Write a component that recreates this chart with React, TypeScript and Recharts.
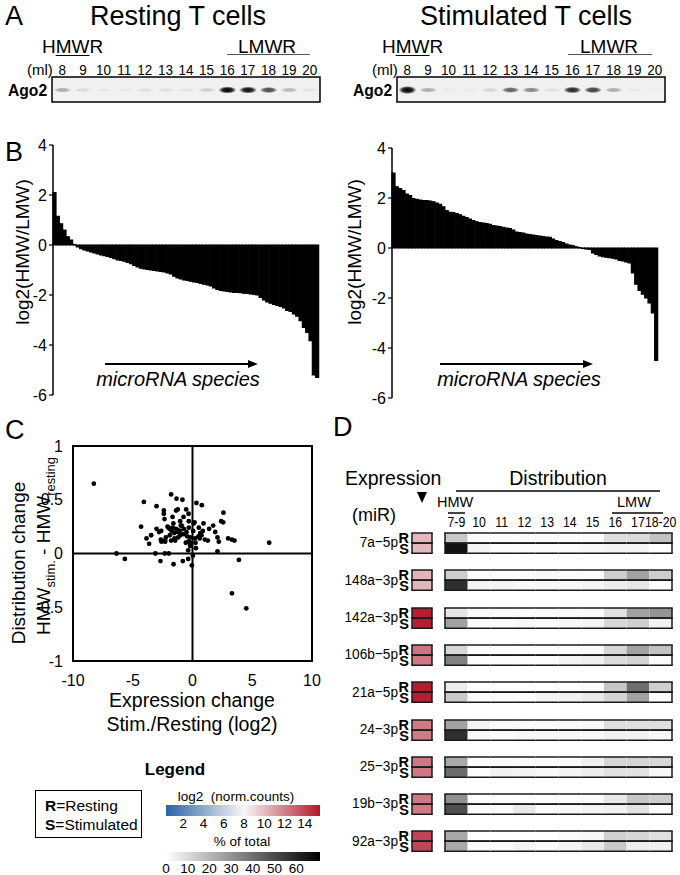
import React from 'react';
import {
  Bar,
  BarChart,
  Cell,
  ReferenceArea,
  ReferenceLine,
  Scatter,
  ScatterChart,
  XAxis,
  YAxis,
} from 'recharts';

const FONT = '"Liberation Sans", Arial, Helvetica, sans-serif';

// A: Ago2 western blot, SEC fractions (ml)
const blotLanes = ['8', '9', '10', '11', '12', '13', '14', '15', '16', '17', '18', '19', '20'];
const restingBands = [0.3, 0.1, 0.04, 0.04, 0.08, 0.08, 0.06, 0.15, 1, 0.95, 0.7, 0.25, 0.05];
const stimulatedBands = [1.3, 0.3, 0.03, 0.03, 0.12, 0.6, 0.45, 0.08, 0.85, 0.75, 0.3, 0.04, 0.02];

// B: log2(HMW/LMW) per microRNA species, sorted
const restingRatio = [
  2.1, 1.15, 0.85, 0.6, 0.33, 0.2, 0.02, -0.08, -0.15, -0.2,
  -0.24, -0.28, -0.32, -0.36, -0.4, -0.43, -0.46, -0.5, -0.55, -0.6,
  -0.62, -0.65, -0.7, -0.75, -0.82, -0.88, -0.93, -0.96, -0.98, -1.0,
  -1.02, -1.04, -1.06, -1.08, -1.12, -1.16, -1.25, -1.32, -1.36, -1.4,
  -1.42, -1.45, -1.48, -1.5, -1.54, -1.57, -1.6, -1.64, -1.72, -1.78,
  -1.82, -1.84, -1.86, -1.88, -1.9, -1.9, -1.91, -1.93, -1.94, -1.96,
  -1.98, -2.0, -2.1, -2.2, -2.28, -2.33, -2.38, -2.42, -2.46, -2.52,
  -2.62, -2.66, -2.76, -2.85, -3.03, -3.3, -3.5, -3.83, -5.2, -5.3,
];
const stimulatedRatio = [
  3.0, 2.45, 2.38, 2.3, 2.16, 2.1, 1.98, 1.95, 1.92, 1.9,
  1.9, 1.88, 1.85, 1.8, 1.75, 1.65, 1.5, 1.43, 1.42, 1.38,
  1.33, 1.27, 1.22, 1.16, 1.1, 1.05, 1.02, 1.0, 0.98, 0.95,
  0.9, 0.88, 0.86, 0.83, 0.8, 0.78, 0.72, 0.64, 0.62, 0.6,
  0.56, 0.54, 0.52, 0.5, 0.48, 0.46, 0.44, 0.43, 0.36, 0.3,
  0.26, 0.22, 0.16, 0.12, 0.09, 0.05, 0.02, -0.02, -0.04, -0.06,
  -0.2, -0.26, -0.32, -0.35, -0.37, -0.39, -0.41, -0.44, -0.5, -0.52,
  -0.56, -0.6, -1.0, -1.45, -1.7, -1.85, -2.0, -2.2, -2.6, -4.5,
];
const ratioTicks = [-6, -4, -2, 0, 2, 4];

// C: expression change vs distribution change
const expressionChange = [
  -8.26, -4.07, -3.01, -1.79, -1.34, -0.84, 0.33, 0.78, 2.59, -2.4,
  -2.4, -1.37, -1.23, -0.53, -0.33, -2.34, -1.67, -0.75, -1.03, -0.31,
  0.17, 0.92, 1.73, 2.4, 2.57, -4.3, -3.01, -2.62, -2.09, -1.92,
  -1.65, -1.39, -0.98, -0.73, -0.31, 0.06, 0.53, 0.86, 1.39, 1.9,
  -3.46, -3.85, -3.63, -2.65, -2.23, -1.9, -1.53, -1.23, -1.03, -1.51,
  -1.79, -2.29, -0.45, -0.28, -0.56, 0.2, 0.5, 0.75, 1.03, 1.28,
  2.09, 2.2, 2.98, 3.29, 3.51, 6.42, -0.17, 0.25, -0.2, 0.28,
  -0.36, -6.36, -3.1, -2.32, -1.98, 2.09, 0.03, -5.66, -2.68, -1.59,
  -0.81, -0.36, -0.06, 3.88, 3.3, 4.5, -2.0, -1.75, -1.25, -0.9,
  -0.77, -1.2, -1.45, -2.3, -2.6, -0.35, -0.2, 0.6, 0.65, -1.05,
  -0.5, -1.6, 0.1, -2.8,
];
const distributionChange = [
  0.65, 0.48, 0.44, 0.55, 0.51, 0.5, 0.47, 0.45, 0.38, 0.4,
  0.37, 0.4, 0.41, 0.41, 0.37, 0.32, 0.34, 0.34, 0.3, 0.3,
  0.29, 0.28, 0.26, 0.3, 0.29, 0.25, 0.23, 0.21, 0.25, 0.23,
  0.24, 0.23, 0.26, 0.23, 0.24, 0.21, 0.24, 0.21, 0.23, 0.2,
  0.17, 0.14, 0.09, 0.13, 0.15, 0.17, 0.19, 0.2, 0.17, 0.14,
  0.12, 0.11, 0.16, 0.11, 0.1, 0.14, 0.16, 0.17, 0.13, 0.12,
  0.15, 0.11, 0.14, 0.13, 0.12, 0.1, 0.1, 0.1, 0.07, 0.05,
  0.03, 0.0, 0.0, 0.0, 0.0, 0.02, -0.02, -0.05, -0.07, -0.1,
  -0.07, -0.05, -0.11, -0.06, -0.37, -0.51, 0.24, 0.21, 0.22, 0.26,
  0.18, 0.15, 0.12, 0.12, 0.11, 0.11, 0.15, 0.14, 0.19, 0.21,
  0.2, 0.28, 0.28, 0.2,
];
const scatterXTicks = [-10, -5, 0, 5, 10];
const scatterYTicks = [-1, -0.5, 0, 0.5, 1];

// D: expression (log2 norm. counts) and distribution (% of total)
const mirNames = ['7a\u22125p', '148a\u22123p', '142a\u22123p', '106b\u22125p', '21a\u22125p', '24\u22123p', '25\u22123p', '19b\u22123p', '92a\u22123p'];
const expressionResting = [10.1, 10.3, 15.3, 12.4, 15.3, 12.2, 12.3, 12.3, 14.0];
const expressionStimulated = [10.1, 10.2, 15.3, 12.3, 15.3, 12.2, 12.3, 12.2, 14.0];
const distColumns = ['7-9', '10', '11', '12', '13', '14', '15', '16', '17', '18-20'];
const distResting = [
  [15, 1, 1, 1, 1, 1, 1, 9, 10, 17],
  [14, 1, 1, 1, 2, 1, 1, 14, 26, 14],
  [7, 1, 1, 1, 1, 1, 1, 8, 26, 30],
  [11, 0, 0, 0, 0, 0, 1, 11, 26, 17],
  [5, 0, 0, 0, 0, 0, 1, 16, 40, 13],
  [26, 3, 1, 1, 1, 1, 2, 9, 9, 9],
  [24, 1, 1, 1, 1, 1, 4, 11, 12, 11],
  [31, 0, 0, 0, 0, 0, 1, 6, 16, 14],
  [24, 0, 0, 0, 0, 1, 2, 13, 11, 9],
];
const distStimulated = [
  [66, 3, 1, 1, 1, 1, 2, 3, 3, 0],
  [58, 3, 3, 2, 2, 2, 3, 5, 7, 0],
  [26, 1, 1, 2, 1, 2, 3, 11, 13, 4],
  [35, 1, 1, 1, 1, 3, 4, 10, 12, 1],
  [15, 1, 1, 1, 3, 4, 6, 12, 26, 1],
  [58, 2, 1, 2, 2, 2, 2, 4, 4, 2],
  [41, 1, 4, 3, 2, 3, 5, 8, 8, 2],
  [49, 1, 1, 6, 1, 2, 3, 4, 8, 1],
  [24, 1, 1, 3, 1, 3, 6, 15, 5, 4],
];

// legend scales
const log2Range: [number, number] = [0.3, 15.5];
const log2Mid = 8;
const log2Ticks = [2, 4, 6, 8, 10, 12, 14];
const pctRange: [number, number] = [0, 71];
const pctTicks = [0, 10, 20, 30, 40, 50, 60];

const BLUE = '#2b62a6';
const WHITE = '#f7f7f7';
const RED = '#b2182b';

const hex = (c: string) => [1, 3, 5].map((i) => parseInt(c.slice(i, i + 2), 16));
const mix = (a: string, b: string, t: number) => {
  const k = Math.max(0, Math.min(1, t));
  const A = hex(a);
  const B = hex(b);
  return `rgb(${A.map((v, i) => Math.round(v + (B[i] - v) * k)).join(',')})`;
};
const expColor = (v: number) =>
  v < log2Mid
    ? mix(BLUE, WHITE, (v - log2Range[0]) / (log2Mid - log2Range[0]))
    : mix(WHITE, RED, (v - log2Mid) / (log2Range[1] - log2Mid));
const pctColor = (v: number) => mix('#ffffff', '#000000', (v - pctRange[0]) / (pctRange[1] - pctRange[0]));

// ---------- small layout helpers ----------
type TxtProps = {
  x: number;
  y: number;
  size: number;
  anchor?: 'start' | 'middle' | 'end';
  bold?: boolean;
  italic?: boolean;
  sx?: number;
  children: React.ReactNode;
};

const Txt = ({ x, y, size, anchor = 'start', bold, italic, sx = 1, children }: TxtProps) => {
  const shift = anchor === 'middle' ? '-50%' : anchor === 'end' ? '-100%' : '0px';
  const origin = anchor === 'middle' ? 'center' : anchor === 'end' ? 'right' : 'left';
  return (
    <div
      style={{
        position: 'absolute',
        left: x,
        top: y - 0.8465 * size,
        fontSize: size,
        lineHeight: 1,
        whiteSpace: 'nowrap',
        fontWeight: bold ? 700 : 400,
        fontStyle: italic ? 'italic' : 'normal',
        transform: `translateX(${shift}) scaleX(${sx})`,
        transformOrigin: `${origin} center`,
      }}
    >
      {children}
    </div>
  );
};

const VTxt = ({ cx, cy, size, children }: { cx: number; cy: number; size: number; children: React.ReactNode }) => (
  <div
    style={{
      position: 'absolute',
      left: cx,
      top: cy,
      fontSize: size,
      lineHeight: 1,
      whiteSpace: 'nowrap',
      transform: 'translate(-50%, -50%) rotate(-90deg)',
    }}
  >
    {children}
  </div>
);

const HLine = ({ x1, x2, y, w = 1.2, color = '#000' }: { x1: number; x2: number; y: number; w?: number; color?: string }) => (
  <div style={{ position: 'absolute', left: x1, top: y - w / 2, width: x2 - x1, height: w, background: color }} />
);

const Arrow = ({ x1, x2, y }: { x1: number; x2: number; y: number }) => (
  <>
    <HLine x1={x1} x2={x2 - 8} y={y} w={2} />
    <div
      style={{
        position: 'absolute',
        left: x2 - 10,
        top: y - 4,
        width: 0,
        height: 0,
        borderTop: '4px solid transparent',
        borderBottom: '4px solid transparent',
        borderLeft: '10px solid #000',
      }}
    />
  </>
);

const Sub = ({ children }: { children: React.ReactNode }) => (
  <span style={{ fontSize: '0.68em', position: 'relative', top: '0.35em' }}>{children}</span>
);

// ---------- A: blot ----------
const BandShape = (props: any) => {
  const { x, y, width, height, payload } = props;
  const level = payload.level as number;
  return (
    <ellipse
      cx={x + width / 2}
      cy={y + height / 2 + 0.5}
      rx={width * 0.43}
      ry={2 + 1.6 * Math.min(level, 1.4)}
      fill="url(#bandGrad)"
      opacity={Math.min(1, level)}
    />
  );
};

const LaneTick = (props: any) => {
  const { x, y, payload } = props;
  return (
    <text transform={`translate(${x},${y}) scale(0.9,1)`} textAnchor="middle" fontSize={15} fontFamily={FONT} fill="#000">
      {payload.value}
    </text>
  );
};

const Blot = ({ left, levels }: { left: number; levels: number[] }) => {
  const rows = blotLanes.map((lane, i) => ({ lane, full: 1, level: levels[i] }));
  return (
    <div style={{ position: 'absolute', left: left - 2, top: 58 }}>
      <BarChart width={272} height={46} data={rows} margin={{ top: 0, right: 2, bottom: 2, left: 2 }} barCategoryGap={0}>
        <defs>
          <radialGradient id="bandGrad">
            <stop offset="0%" stopColor="#000" stopOpacity={1} />
            <stop offset="55%" stopColor="#000" stopOpacity={0.85} />
            <stop offset="100%" stopColor="#000" stopOpacity={0} />
          </radialGradient>
        </defs>
        <XAxis
          dataKey="lane"
          orientation="top"
          height={19}
          axisLine={false}
          tickLine={false}
          tickSize={0}
          tickMargin={2}
          interval={0}
          tick={<LaneTick />}
        />
        <YAxis hide domain={[0, 1]} />
        <Bar dataKey="full" background={{ fill: '#f1f1f1' }} shape={BandShape} isAnimationActive={false} />
        <ReferenceArea y1={0} y2={1} fill="none" stroke="#000" strokeWidth={1.5} />
      </BarChart>
    </div>
  );
};

// ---------- B: sorted ratio bars ----------
const RatioChart = ({ left, top, marginLeft, values }: { left: number; top: number; marginLeft: number; values: number[] }) => {
  const rows = values.map((ratio, i) => ({ idx: i, ratio }));
  return (
    <div style={{ position: 'absolute', left, top }}>
      <BarChart
        width={330}
        height={281}
        data={rows}
        margin={{ top: 15, right: 330 - marginLeft - 30 - 266, bottom: 16, left: marginLeft }}
        barCategoryGap={0}
        barGap={0}
      >
        <XAxis dataKey="idx" hide />
        <YAxis
          domain={[-6, 4]}
          ticks={ratioTicks}
          interval={0}
          width={30}
          axisLine={{ stroke: '#000', strokeWidth: 1.5 }}
          tickLine={{ stroke: '#000', strokeWidth: 1.2 }}
          tickSize={4}
          tickMargin={2}
          tick={{ fontSize: 16, fill: '#000', fontFamily: FONT }}
        />
        <Bar dataKey="ratio" fill="#000" stroke="#000" strokeWidth={1.2} isAnimationActive={false} />
      </BarChart>
    </div>
  );
};

// ---------- D: heatmap rows ----------
const ROW_TOP = 533;
const ROW_PITCH = 37.3;
const ROW_H = 20.5;

const FramedCell = (props: any) => {
  const { x, y, width, height, fill, first, last } = props;
  const s = '#1a1a1a';
  return (
    <g>
      <rect x={x} y={y} width={width} height={height} fill={fill} />
      <line x1={x - (first ? 0.75 : 0)} x2={x + width + (last ? 0.75 : 0)} y1={y} y2={y} stroke={s} strokeWidth={1.5} />
      <line x1={x - (first ? 0.75 : 0)} x2={x + width + (last ? 0.75 : 0)} y1={y + height} y2={y + height} stroke={s} strokeWidth={1.5} />
      {first && <line x1={x} x2={x} y1={y} y2={y + height} stroke={s} strokeWidth={1.5} />}
      {last && <line x1={x + width} x2={x + width} y1={y} y2={y + height} stroke={s} strokeWidth={1.5} />}
    </g>
  );
};

const ColTick = (props: any) => {
  const { x, y, payload } = props;
  return (
    <text transform={`translate(${x},${y}) scale(0.82,1)`} textAnchor="middle" fontSize={15} fontFamily={FONT} fill="#000">
      {distColumns[Math.floor(payload.value)]}
    </text>
  );
};

const RSTick = (props: any) => {
  const { x, y, payload } = props;
  return (
    <text x={x} y={y + 5.2} textAnchor="end" fontSize={14.5} fontWeight={700} fontFamily={FONT} fill="#000">
      {payload.value}
    </text>
  );
};

const HeatRow = ({ i }: { i: number }) => {
  const top = ROW_TOP + i * ROW_PITCH;
  const header = i === 0;
  const distRows = ['R', 'S'].map((k) => {
    const row: Record<string, string | number> = { k };
    distColumns.forEach((_, c) => {
      row[`c${c}`] = 1;
    });
    return row;
  });
  const distVals = [distResting[i], distStimulated[i]];
  const expRows = [
    { k: 'R', one: 1, e: expressionResting[i] },
    { k: 'S', one: 1, e: expressionStimulated[i] },
  ];
  const extra = header ? 20 : 0;
  return (
    <>
      <Txt x={398} y={top + 14.5} size={15.5} anchor="end" sx={0.88}>
        {mirNames[i]}
      </Txt>
      <div style={{ position: 'absolute', left: 412 - 14 - 2, top: top - 4 }}>
        <BarChart
          layout="vertical"
          width={38}
          height={ROW_H + 8}
          data={expRows}
          margin={{ top: 4, right: 2, bottom: 4, left: 2 }}
          barCategoryGap={0}
        >
          <XAxis type="number" domain={[0, 1]} hide />
          <YAxis
            type="category"
            dataKey="k"
            width={14}
            interval={0}
            axisLine={false}
            tickLine={false}
            tickSize={0}
            tickMargin={3}
            tick={<RSTick />}
          />
          <Bar dataKey="one" isAnimationActive={false} shape={(p: any) => <FramedCell {...p} first last />}>
            {expRows.map((r) => (
              <Cell key={r.k} fill={expColor(r.e)} />
            ))}
          </Bar>
        </BarChart>
      </div>
      <div style={{ position: 'absolute', left: 445 - 2, top: top - 2 - extra }}>
        <BarChart
          layout="vertical"
          width={227 + 2 + 14}
          height={ROW_H + 4 + extra}
          data={distRows}
          margin={{ top: 2, right: 14, bottom: 2, left: 2 }}
          barCategoryGap={0}
          barGap={0}
        >
          {header ? (
            <XAxis
              type="number"
              domain={[0, distColumns.length]}
              ticks={distColumns.map((_, c) => c + 0.5)}
              orientation="top"
              height={20}
              axisLine={false}
              tickLine={false}
              tickSize={0}
              tickMargin={6}
              interval={0}
              tick={<ColTick />}
            />
          ) : (
            <XAxis type="number" domain={[0, distColumns.length]} hide />
          )}
          <YAxis type="category" dataKey="k" hide />
          {distColumns.map((_, c) => (
            <Bar
              key={c}
              dataKey={`c${c}`}
              stackId="d"
              isAnimationActive={false}
              shape={(p: any) => <FramedCell {...p} first={c === 0} last={c === distColumns.length - 1} />}
            >
              {distVals.map((vals, r) => (
                <Cell key={r} fill={pctColor(vals[c])} />
              ))}
            </Bar>
          ))}
        </BarChart>
      </div>
    </>
  );
};

// ---------- legend colour bars ----------
const ColorBar = ({ top, barH, range, ticks, gradId, stops }: {
  top: number;
  barH: number;
  range: [number, number];
  ticks: number[];
  gradId: string;
  stops: { offset: number; color: string }[];
}) => (
  <div style={{ position: 'absolute', left: 166 - 12, top: top - 2 }}>
    <BarChart
      layout="vertical"
      width={154 + 24}
      height={2 + barH + 16}
      data={[{ name: 'bar', span: range }]}
      margin={{ top: 2, right: 12, bottom: 0, left: 12 }}
      barCategoryGap={0}
    >
      <defs>
        <linearGradient id={gradId} x1="0" y1="0" x2="1" y2="0">
          {stops.map((s) => (
            <stop key={s.offset} offset={`${s.offset * 100}%`} stopColor={s.color} />
          ))}
        </linearGradient>
      </defs>
      <XAxis
        type="number"
        domain={range}
        ticks={ticks}
        interval={0}
        height={16}
        axisLine={false}
        tickLine={false}
        tickSize={0}
        tickMargin={2}
        tick={{ fontSize: 13.5, fill: '#000', fontFamily: FONT }}
      />
      <YAxis type="category" dataKey="name" hide />
      <Bar dataKey="span" fill={`url(#${gradId})`} isAnimationActive={false} />
    </BarChart>
  </div>
);

const ScatterDot = (props: any) => <circle cx={props.cx} cy={props.cy} r={2.4} fill="#000" />;

export default function App() {
  const scatterRows = expressionChange.map((x, i) => ({ x, y: distributionChange[i] }));
  const whiteAt = (log2Mid - log2Range[0]) / (log2Range[1] - log2Range[0]);

  return (
    <div
      style={{
        position: 'absolute',
        left: 0,
        top: 0,
        width: 680,
        height: 875,
        background: '#fff',
        fontFamily: FONT,
        color: '#000',
        overflow: 'hidden',
      }}
    >
      {/* Panel A */}
      <Txt x={5} y={26} size={27}>A</Txt>
      <Txt x={178} y={26} size={27} anchor="middle">Resting T cells</Txt>
      <Txt x={526} y={26} size={27} anchor="middle">Stimulated T cells</Txt>

      <Txt x={42} y={53} size={19}>
        H<span style={{ textDecoration: 'underline', textDecorationThickness: '1.3px', textUnderlineOffset: '2px' }}>MW</span>R
      </Txt>
      <Txt x={238} y={53} size={19}>LMWR</Txt>
      <HLine x1={227} x2={310} y={54.5} color="#555" />
      <Txt x={382} y={53} size={19}>
        H<span style={{ textDecoration: 'underline', textDecorationThickness: '1.3px', textUnderlineOffset: '2px' }}>MW</span>R
      </Txt>
      <Txt x={580} y={53} size={19}>LMWR</Txt>
      <HLine x1={568} x2={652} y={54.5} color="#555" />

      <Txt x={27} y={75} size={15}>(ml)</Txt>
      <Txt x={372} y={75} size={15}>(ml)</Txt>
      <Txt x={8} y={96} size={17} bold sx={0.92}>Ago2</Txt>
      <Txt x={353} y={96} size={17} bold sx={0.92}>Ago2</Txt>
      <Blot left={52} levels={restingBands} />
      <Blot left={397} levels={stimulatedBands} />

      {/* Panel B */}
      <Txt x={5} y={162} size={27}>B</Txt>
      <RatioChart left={0} top={130} marginLeft={23} values={restingRatio} />
      <RatioChart left={340} top={133} marginLeft={22} values={stimulatedRatio} />
      <VTxt cx={22} cy={252} size={19}>log2(HMW/LMW)</VTxt>
      <VTxt cx={354} cy={252} size={19}>log2(HMW/LMW)</VTxt>
      <Arrow x1={105} x2={258} y={364} />
      <Arrow x1={440} x2={593} y={364} />
      <Txt x={178} y={386} size={20} anchor="middle" italic>microRNA species</Txt>
      <Txt x={519} y={386} size={20} anchor="middle" italic>microRNA species</Txt>

      {/* Panel C */}
      <Txt x={5} y={440} size={27}>C</Txt>
      <div style={{ position: 'absolute', left: 0, top: 430 }}>
        <ScatterChart width={330} height={270} margin={{ top: 16, right: 18, bottom: 14, left: 38 }}>
          <XAxis
            type="number"
            dataKey="x"
            domain={[-10, 10]}
            ticks={scatterXTicks}
            interval={0}
            height={25}
            axisLine={false}
            tickLine={false}
            tickMargin={8}
            tick={{ fontSize: 16, fill: '#000', fontFamily: FONT }}
          />
          <YAxis
            type="number"
            dataKey="y"
            domain={[-1, 1]}
            ticks={scatterYTicks}
            interval={0}
            width={35}
            axisLine={false}
            tickLine={false}
            tickMargin={4}
            tick={{ fontSize: 16, fill: '#000', fontFamily: FONT }}
          />
          <ReferenceArea x1={-10} x2={10} y1={-1} y2={1} fill="none" stroke="#000" strokeWidth={2} />
          <ReferenceLine x={0} stroke="#000" strokeWidth={2} />
          <ReferenceLine y={0} stroke="#000" strokeWidth={2} />
          <Scatter data={scatterRows} shape={ScatterDot} isAnimationActive={false} />
        </ScatterChart>
      </div>
      <VTxt cx={18} cy={563} size={19}>Distribution change</VTxt>
      <VTxt cx={43} cy={546} size={19}>
        HMW<Sub>stim.</Sub> - HMW<Sub>resting</Sub>
      </VTxt>
      <Txt x={192} y={708} size={19.5} anchor="middle">Expression change</Txt>
      <Txt x={192} y={732} size={19.5} anchor="middle">Stim./Resting (log2)</Txt>

      {/* Legend */}
      <Txt x={175} y={775} size={17} anchor="middle" bold>Legend</Txt>
      <div
        style={{
          position: 'absolute',
          left: 35,
          top: 790,
          width: 107,
          height: 48,
          border: '1.5px solid #000',
          boxSizing: 'border-box',
        }}
      />
      <Txt x={45} y={811} size={15.5}><b>R</b>=Resting</Txt>
      <Txt x={45} y={830} size={15.5}><b>S</b>=Stimulated</Txt>
      <Txt x={236} y={801} size={13.5} anchor="middle">log2&nbsp;&nbsp;(norm.counts)</Txt>
      <ColorBar
        top={805}
        barH={11}
        range={log2Range}
        ticks={log2Ticks}
        gradId="log2Grad"
        stops={[
          { offset: 0, color: BLUE },
          { offset: whiteAt, color: WHITE },
          { offset: 1, color: RED },
        ]}
      />
      <Txt x={242} y={846} size={13.5} anchor="middle">% of total</Txt>
      <ColorBar
        top={852}
        barH={9}
        range={pctRange}
        ticks={pctTicks}
        gradId="pctGrad"
        stops={[
          { offset: 0, color: '#ffffff' },
          { offset: 1, color: '#000000' },
        ]}
      />

      {/* Panel D */}
      <Txt x={333} y={437} size={27}>D</Txt>
      <Txt x={345} y={486} size={19.5}>Expression</Txt>
      <div
        style={{
          position: 'absolute',
          left: 417,
          top: 492,
          width: 0,
          height: 0,
          borderLeft: '5.5px solid transparent',
          borderRight: '5.5px solid transparent',
          borderTop: '11px solid #000',
        }}
      />
      <Txt x={352} y={521} size={18}>(miR)</Txt>
      <Txt x={558} y={486} size={19.5} anchor="middle">Distribution</Txt>
      <HLine x1={456} x2={660} y={491} color="#444" />
      <Txt x={437} y={507} size={14.5}>HMW</Txt>
      <HLine x1={448} x2={465} y={513} color="#444" />
      <Txt x={617} y={507} size={14.5}>LMW</Txt>
      <HLine x1={612} x2={663} y={513} color="#444" />
      {mirNames.map((_, i) => (
        <HeatRow key={i} i={i} />
      ))}
    </div>
  );
}
